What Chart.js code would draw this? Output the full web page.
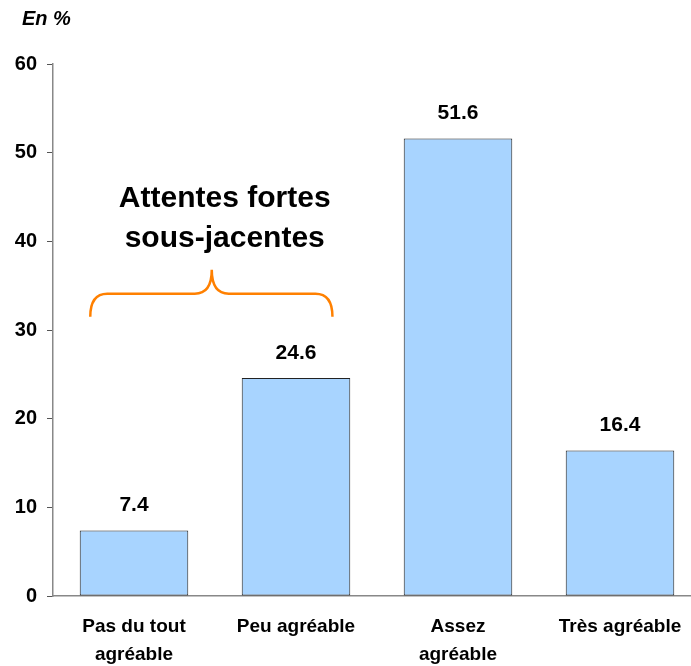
<!DOCTYPE html>
<html><head><meta charset="utf-8">
<script src="https://cdn.jsdelivr.net/npm/chart.js@4"></script>
<style>
html,body{margin:0;padding:0;overflow:hidden;background:#fff;width:691px;height:666px}
#wrap{width:701px;height:666px;position:relative}
</style></head>
<body>
<div id="wrap"><canvas id="c"></canvas></div>
<script>
const categories = [["Pas du tout","agréable"], "Peu agréable", ["Assez","agréable"], "Très agréable"];
const values = [7.4, 24.6, 51.6, 16.4];
const yTicks = [0, 10, 20, 30, 40, 50, 60];
const unitLabel = "En %";
const annotationLines = ["Attentes fortes", "sous-jacentes"];

const FONT = "'Liberation Sans', Arial, sans-serif";

const overlay = {
  id: 'overlay',
  afterDatasetsDraw(chart) {
    const ctx = chart.ctx;
    const xs = chart.scales.x, ys = chart.scales.y;
    ctx.save();
    ctx.fillStyle = '#000';
    ctx.font = "bold 21px " + FONT;
    ctx.textAlign = 'center';
    ctx.textBaseline = 'middle';
    chart.getDatasetMeta(0).data.forEach((bar, i) => {
      ctx.fillText(values[i].toFixed(1), bar.x, bar.y - 25);
    });
    ctx.font = "italic bold 20px " + FONT;
    ctx.textAlign = 'left';
    ctx.fillText(unitLabel, 22, 19);
    ctx.font = "bold 30px " + FONT;
    ctx.textAlign = 'center';
    const ax = xs.getPixelForValue(0.56);
    ctx.fillText(annotationLines[0], ax, ys.getPixelForValue(44.8));
    ctx.fillText(annotationLines[1], ax, ys.getPixelForValue(40.3));
    const x0 = xs.getPixelForValue(-0.27), x1 = xs.getPixelForValue(1.225), xm = xs.getPixelForValue(0.48);
    const yEnd = ys.getPixelForValue(31.5), yMid = ys.getPixelForValue(34.1), yTip = ys.getPixelForValue(36.8);
    const r = 17;
    ctx.strokeStyle = '#FF8000';
    ctx.lineWidth = 2.5;
    ctx.beginPath();
    ctx.moveTo(x0, yEnd);
    ctx.quadraticCurveTo(x0, yMid, x0 + r, yMid);
    ctx.lineTo(xm - r, yMid);
    ctx.quadraticCurveTo(xm, yMid, xm, yTip);
    ctx.quadraticCurveTo(xm, yMid, xm + r, yMid);
    ctx.lineTo(x1 - r, yMid);
    ctx.quadraticCurveTo(x1, yMid, x1, yEnd);
    ctx.stroke();
    ctx.restore();
  }
};

new Chart(document.getElementById('c'), {
  type: 'bar',
  data: {
    labels: categories,
    datasets: [{
      data: values,
      backgroundColor: '#A8D4FF',
      borderColor: '#222',
      borderWidth: 1,
      borderSkipped: false,
      barPercentage: 0.67,
      categoryPercentage: 1
    }]
  },
  options: {
    responsive: true,
    maintainAspectRatio: false,
    animation: false,
    devicePixelRatio: 1,
    layout: { padding: { top: 64, left: 0, right: 0, bottom: 0 } },
    plugins: { legend: { display: false }, tooltip: { enabled: false } },
    scales: {
      x: {
        afterFit: s => { s.height = 70; },
        grid: { display: false, drawTicks: false },
        border: { display: true, color: '#888', width: 1.5 },
        ticks: { color: '#000', font: { family: FONT, size: 19, weight: 'bold', lineHeight: 1.45 }, padding: 17, maxRotation: 0, autoSkip: false }
      },
      y: {
        min: 0, max: 60,
        afterFit: s => { s.width = 53; },
        afterBuildTicks: s => { s.ticks = yTicks.map(v => ({ value: v })); },
        grid: { drawOnChartArea: false, drawTicks: true, tickLength: 6, color: '#555' },
        border: { display: true, color: '#888', width: 1.5 },
        ticks: { color: '#000', font: { family: FONT, size: 20, weight: 'bold' }, padding: 10 }
      }
    }
  },
  plugins: [overlay]
});
</script>
</body></html>
